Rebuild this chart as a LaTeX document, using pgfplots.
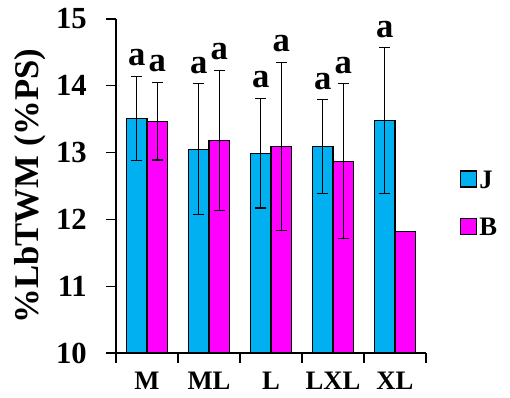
\documentclass[border=0pt]{standalone}
\usepackage{fontspec}
\setmainfont{Liberation Serif}
\usepackage{pgfplots}
\pgfplotsset{compat=1.18}
\usetikzlibrary{calc}

\definecolor{jblue}{RGB}{0,176,240}
\definecolor{bmag}{RGB}{255,0,255}

\pgfplotsset{
  barstyle/.style={ybar, bar shift=0pt, draw=black, line width=0.8pt,
    legend image code/.code={\draw[##1, line width=0.8pt] (0pt,-5pt) rectangle (12pt,7pt);}},
  errstyle/.style={error bars/.cd, y dir=both, y explicit,
    error bar style={line width=1pt, black},
    error mark options={rotate=90, mark size=4pt, line width=1pt, black}},
}

\begin{document}
\begin{tikzpicture}
\begin{axis}[
  name=ax,
  scale only axis,
  width=232.5pt, height=250.5pt,
  xmin=-0.5, xmax=4.5,
  ymin=10, ymax=15,
  axis lines*=left,
  axis line style={line width=1pt},
  every tick/.style={black, line width=1pt},
  tick align=outside,
  major tick length=7.5pt,
  ytick={10,11,12,13,14,15},
  yticklabels={},
  xtick={-0.5,0.5,1.5,2.5,3.5,4.5},
  xticklabels={},
  extra x ticks={0,1,2,3,4},
  extra x tick labels={M,ML,L,LXL,XL},
  extra x tick style={major tick length=0pt},
  xticklabel style={font=\fontsize{20}{20}\selectfont\bfseries},
  xticklabel shift=11pt,
  ylabel={\%LbTWM (\%PS)},
  ylabel style={font=\fontsize{26}{26}\selectfont\bfseries,
    at={(axis description cs:-0.225,0.5)}, anchor=south, inner sep=0pt},
  bar width=0.33,
  legend style={draw=none, fill=none, at={(1.095,0.446)}, anchor=west,
    font=\fontsize{20}{20}\selectfont\bfseries, row sep=17pt},
  legend cell align=left,
  clip=false,
]
% y tick numbers, set clear of the outward ticks
\pgfplotsinvokeforeach{10,11,12,13,14,15}{
  \node[anchor=east, inner sep=0pt, xshift=-21.75pt,
    font=\fontsize{23}{23}\selectfont\bfseries] at (axis cs:-0.5,#1) {#1};
}
% J series (left bar of each group)
\addplot[barstyle, fill=jblue, errstyle]
  coordinates {
    (-0.165,13.51) +- (0,0.63)
    (0.835,13.05) +- (0,0.98)
    (1.835,12.99) +- (0,0.82)
    (2.835,13.09) +- (0,0.70)
    (3.835,13.48) +- (0,1.09)
  };
\addlegendentry{J}
% B series (right bar of each group)
\addplot[barstyle, fill=bmag, errstyle]
  coordinates {
    (0.165,13.47) +- (0,0.58)
    (1.165,13.18) +- (0,1.05)
    (2.165,13.09) +- (0,1.26)
    (3.165,12.87) +- (0,1.16)
  };
\addlegendentry{B}
\addplot[barstyle, fill=bmag, forget plot]
  coordinates {(4.165,11.82)};
% significance letters above the error bars
\addplot[draw=none, mark=none, forget plot, nodes near coords={a},
  nodes near coords style={anchor=south, inner sep=0pt, yshift=7.5pt,
    font=\fontsize{26}{26}\selectfont\bfseries}]
  coordinates {
    (-0.165,14.14) (0.835,14.03) (1.835,13.81) (2.835,13.79) (3.835,14.57)
    (0.165,14.05) (1.165,14.23) (2.165,14.35) (3.165,14.03)
  };
\end{axis}
\pgfresetboundingbox
\path ($(ax.south west)+(-87pt,-33.75pt)$) rectangle ($(ax.north east)+(63pt,14.25pt)$);
\end{tikzpicture}
\end{document}
